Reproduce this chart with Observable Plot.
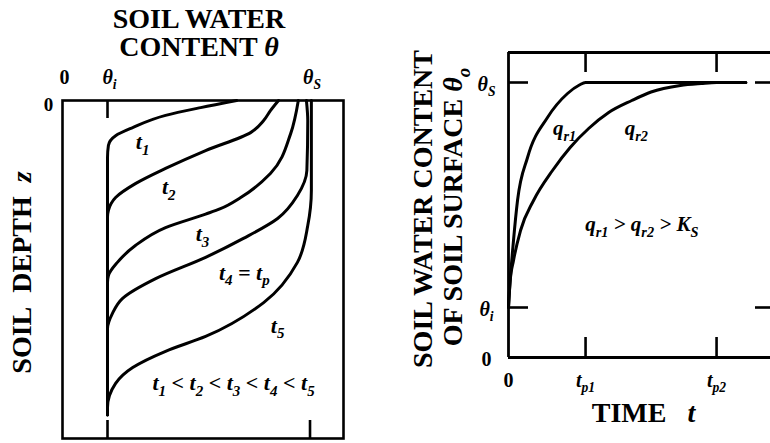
<!DOCTYPE html>
<html>
<head>
<meta charset="utf-8">
<script src="https://cdn.jsdelivr.net/npm/d3@7"></script>
<script src="https://cdn.jsdelivr.net/npm/@observablehq/plot@0.6"></script>
<style>
  html, body { margin: 0; padding: 0; background: #fff; }
  #wrap { position: relative; width: 770px; height: 443px; overflow: hidden; }
  #wrap > div { position: absolute; top: 0; }
</style>
</head>
<body>
<div id="wrap"><div id="left" style="left:0"></div><div id="right" style="left:380px"></div></div>
<script>
// Characteristic water contents (volumetric)
const thetaI = 0.1;   // initial
const thetaS = 0.55;  // saturated

// Left panel: water-content profiles theta(z) at successive times, [theta, depth]
const profileT1 = [[0.387, 0], [0.307, 2.1], [0.229, 4.4], [0.156, 8.0], [0.118, 10.4], [0.102, 13.3], [0.1, 16.9], [0.1, 93]];
const profileT2 = [[0.48, 0], [0.462, 3.0], [0.447, 5.9], [0.418, 9.5], [0.318, 14.8], [0.229, 20.1], [0.162, 24.6], [0.118, 28.7], [0.102, 32.5], [0.1, 34.5], [0.1, 93]];
const profileT3 = [[0.524, 0], [0.507, 9.8], [0.462, 21.6], [0.396, 28.7], [0.351, 32.0], [0.318, 33.6], [0.229, 37.6], [0.162, 42.9], [0.122, 47.9], [0.102, 51.8], [0.1, 53.8], [0.1, 93]];
const profileT4 = [[0.542, 0], [0.545, 6], [0.543, 20.7], [0.522, 28.1], [0.478, 34.9], [0.402, 40.8], [0.318, 46.4], [0.207, 52.7], [0.133, 58.6], [0.111, 63.0], [0.1, 67.5], [0.1, 93]];
const profileT5 = [[0.553, 0], [0.553, 26.6], [0.545, 37.0], [0.522, 47.9], [0.447, 59.8], [0.318, 69.8], [0.229, 74.2], [0.156, 79.0], [0.118, 83.7], [0.1, 90.8], [0.1, 93]];
const profiles = [profileT1, profileT2, profileT3, profileT4, profileT5];

const thetaTickValues = [0, thetaI, thetaS];
const thetaTickLabels = ["0", "*θ_i*", "*θ_S*"];

const profileLabelText = ["t_1", "t_2", "t_3", "t_4 = t_p", "t_5"];
const profileLabelTheta = [0.178, 0.236, 0.311, 0.404, 0.478];
const profileLabelDepth = [12.4, 25.7, 39.6, 50.9, 66.6];
const orderText = "t_1 < t_2 < t_3 < t_4 < t_5";

// Right panel: surface water content theta_o(t) for two rain rates, [time, theta]
const surfaceQr1 = [[0, 0.1], [0.013, 0.134], [0.065, 0.234], [0.117, 0.314], [0.247, 0.4], [0.506, 0.48], [0.766, 0.528], [0.92, 0.545], [1, 0.55], [3.08, 0.55]];
const surfaceQr2 = [[0, 0.1], [0.02, 0.15], [0.065, 0.194], [0.156, 0.254], [0.325, 0.314], [0.571, 0.374], [0.8, 0.42], [1.04, 0.458], [1.3, 0.49], [1.6, 0.514], [1.85, 0.531], [2.23, 0.544], [2.5, 0.548], [2.7, 0.55], [3.08, 0.55]];

const tp1 = 1, tp2 = 2.7;
const timeTickValues = [0, tp1, tp2];
const timeTickLabels = ["0", "*t_{p1}*", "*t_{p2}*"];
const surfaceTickValues = [0, thetaI, thetaS];
const surfaceTickLabels = ["0", "*θ_i*", "*θ_S*"];

const rateLabelText = ["q_{r1}", "q_{r2}"];
const rateLabelTime = [0.727, 1.66];
const rateLabelTheta = [0.458, 0.458];
const relationText = "q_{r1} > q_{r2} > K_S";

const FONT = "Liberation Serif";
const txt = {fontWeight: "bold", fill: "black", textAnchor: "middle", lineAnchor: "middle"};
const TITLE = 28;

// ---------- left panel ----------
const L = {width: 380, height: 443, top: 100, bottom: 5, left: 62, right: 37};
const LinnerH = L.height - L.top - L.bottom;

const leftPlot = Plot.plot({
  width: L.width, height: L.height,
  marginTop: L.top, marginBottom: L.bottom, marginLeft: L.left, marginRight: L.right,
  style: {background: "white", fontFamily: FONT, overflow: "visible"},
  x: {domain: [0, 0.6244], axis: null},
  y: {domain: [0, 100], reverse: true, axis: null},
  marks: [
    Plot.frame({stroke: "black", strokeWidth: 2.6}),
    Plot.ruleX([thetaI], {insetBottom: LinnerH - 18, stroke: "black", strokeWidth: 2.6}),
    Plot.ruleX([thetaI, thetaS], {insetTop: LinnerH - 18, stroke: "black", strokeWidth: 2.6}),
    ...profiles.map((p) => Plot.line(p, {x: (d) => d[0], y: (d) => d[1], curve: "monotone-y", stroke: "black", strokeWidth: 3})),
    Plot.text(thetaTickValues.map((v, i) => ({v, label: thetaTickLabels[i]})), {
      x: "v", text: "label", frameAnchor: "top", dy: -23, dx: 2, fontSize: 20, ...txt
    }),
    Plot.text(["0"], {frameAnchor: "top-left", dx: -14, dy: 4, fontSize: 19, ...txt}),
    Plot.text(["SOIL WATER"], {frameAnchor: "top", dx: -4, dy: -81, fontSize: TITLE, ...txt}),
    Plot.text(["CONTENT *θ*"], {frameAnchor: "top", dx: -4, dy: -53, fontSize: TITLE, ...txt}),
    Plot.text(["SOIL\u2002DEPTH\u2002*z*"], {frameAnchor: "left", rotate: -90, dx: -40, dy: 3, fontSize: TITLE, ...txt}),
    Plot.text(profileLabelText.map((t, i) => ({t, x: profileLabelTheta[i], y: profileLabelDepth[i]})), {
      x: "x", y: "y", text: "t", fontSize: 22, fontStyle: "italic", ...txt
    }),
    Plot.text([orderText], {x: [0.38], y: [83.7], fontSize: 22, fontStyle: "italic", ...txt})
  ]
});

// ---------- right panel ----------
const R = {width: 390, height: 443, top: 52, bottom: 86, left: 128, right: 0};
const RinnerW = R.width - R.left - R.right;
const RinnerH = R.height - R.top - R.bottom;
const thetaMax = 0.61;

const rightPlot = Plot.plot({
  width: R.width, height: R.height,
  marginTop: R.top, marginBottom: R.bottom, marginLeft: R.left, marginRight: R.right,
  style: {background: "white", fontFamily: FONT, overflow: "visible"},
  x: {domain: [0, 3.40], axis: null},
  y: {domain: [0, thetaMax], axis: null},
  marks: [
    Plot.ruleX([0], {stroke: "black", strokeWidth: 2.8}),
    Plot.ruleY([0, thetaMax], {stroke: "black", strokeWidth: 2.8}),
    Plot.ruleY([thetaI, thetaS], {insetRight: RinnerW - 20, stroke: "black", strokeWidth: 2.6}),
    Plot.ruleY([thetaI, thetaS], {insetLeft: RinnerW - 15, stroke: "black", strokeWidth: 2.6}),
    Plot.ruleX([tp1, tp2], {insetBottom: RinnerH - 20, stroke: "black", strokeWidth: 2.6}),
    Plot.ruleX([tp1, tp2], {insetTop: RinnerH - 20, stroke: "black", strokeWidth: 2.6}),
    Plot.line(surfaceQr1, {x: (d) => d[0], y: (d) => d[1], curve: "monotone-x", stroke: "black", strokeWidth: 3}),
    Plot.line(surfaceQr2, {x: (d) => d[0], y: (d) => d[1], curve: "monotone-x", stroke: "black", strokeWidth: 3}),
    Plot.text(surfaceTickValues.map((v, i) => ({v, label: surfaceTickLabels[i]})), {
      y: "v", text: "label", frameAnchor: "left", dx: -22, dy: 2, fontSize: 20, ...txt
    }),
    Plot.text(timeTickValues.map((v, i) => ({v, label: timeTickLabels[i]})), {
      x: "v", text: "label", frameAnchor: "bottom", dy: 23, dx: 0, fontSize: 20, ...txt
    }),
    Plot.text(["TIME\u2002 *t*"], {frameAnchor: "bottom", dx: 4, dy: 56, fontSize: TITLE, ...txt}),
    Plot.text(["SOIL WATER CONTENT"], {frameAnchor: "left", rotate: -90, dx: -85, dy: 4, fontSize: TITLE, ...txt}),
    Plot.text(["OF SOIL SURFACE *θ_o*"], {frameAnchor: "left", rotate: -90, dx: -55, dy: 2, fontSize: TITLE, ...txt}),
    Plot.text(rateLabelText.map((t, i) => ({t, x: rateLabelTime[i], y: rateLabelTheta[i]})), {
      x: "x", y: "y", text: "t", fontSize: 21, fontStyle: "italic", ...txt
    }),
    Plot.text([relationText], {x: [1.73], y: [0.266], fontSize: 21, fontStyle: "italic", ...txt})
  ]
});

document.getElementById("left").appendChild(leftPlot);
document.getElementById("right").appendChild(rightPlot);

// Light markup in label strings: *...* toggles italic, _x or _{xy} is a subscript.
function richText(svg) {
  const ns = "http://www.w3.org/2000/svg";
  svg.querySelectorAll("text").forEach((el) => {
    const s = el.textContent;
    if (!/[*_]/.test(s) || el.querySelector("tspan")) return;
    const size = parseFloat(getComputedStyle(el).fontSize) || 20;
    const shift = size * 0.26;
    const hasStar = s.includes("*");
    el.textContent = "";
    let italic = false, lastSub = false, buf = "";
    const emit = (text, isSub) => {
      if (!text) return;
      const t = document.createElementNS(ns, "tspan");
      t.textContent = text;
      if (hasStar) t.setAttribute("font-style", italic ? "italic" : "normal");
      if (isSub) {
        t.setAttribute("font-size", (size * 0.68).toFixed(1));
        if (!lastSub) t.setAttribute("dy", shift.toFixed(1));
      } else if (lastSub) {
        t.setAttribute("dy", (-shift).toFixed(1));
      }
      lastSub = isSub;
      el.appendChild(t);
    };
    for (let i = 0; i < s.length; i++) {
      const c = s[i];
      if (c === "*") { emit(buf, false); buf = ""; italic = !italic; }
      else if (c === "_") {
        emit(buf, false); buf = "";
        let sub;
        if (s[i + 1] === "{") { const j = s.indexOf("}", i); sub = s.slice(i + 2, j); i = j; }
        else { sub = s[i + 1]; i++; }
        emit(sub, true);
      } else buf += c;
    }
    emit(buf, false);
  });
}
richText(leftPlot);
richText(rightPlot);
</script>
</body>
</html>
